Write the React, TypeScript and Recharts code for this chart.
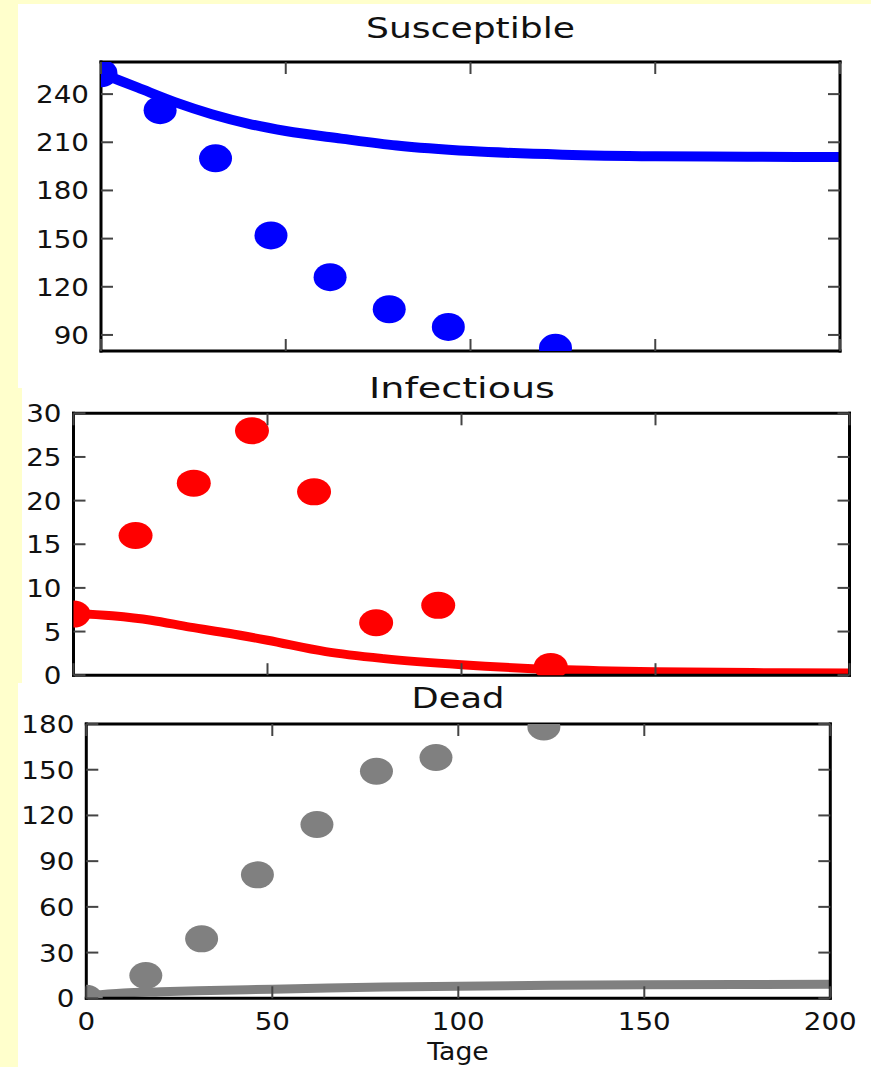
import { ComposedChart, Line, Scatter, XAxis, YAxis } from 'recharts';

// observed counts (days since start)
const obsDays = [0, 16, 31, 46, 62, 78, 94, 123];
const susceptibleObs = [253, 230, 200, 152, 126, 106, 95, 82];
const infectiousObs = [7, 16, 22, 28, 21, 6, 8, 1];
const deadObs = [0, 15, 39, 81, 114, 149, 158, 178];

// fitted model curves
const fitDays = [0, 10, 20, 30, 40, 50, 65, 80, 100, 125, 150, 175, 200];
const susceptibleFit = [253, 244, 235, 227.5, 221.5, 217, 212.3, 208, 204.5, 202.3, 201.3, 201, 200.8];
const infectiousFit = [7.1, 6.8, 6.3, 5.5, 4.8, 4.0, 2.7, 1.9, 1.2, 0.65, 0.4, 0.3, 0.25];
const deadFit = [1.5, 3.5, 4.3, 5, 5.5, 6, 6.8, 7.4, 7.9, 8.5, 8.9, 9.1, 9.2];

const dayTicks = [0, 50, 100, 150, 200];
const susceptibleTicks = [90, 120, 150, 180, 210, 240];
const infectiousTicks = [0, 5, 10, 15, 20, 25, 30];
const deadTicks = [0, 30, 60, 90, 120, 150, 180];

const PAGE_W = 871;
const FONT = '"DejaVu Sans", sans-serif';
const STRETCH = 1.11;
const TICK_LEN = 12;
const TICK_COLOR = '#444';

const toPoints = (xs: number[], ys: number[]) => xs.map((t, i) => ({ t, v: ys[i] }));

// matplotlib-style ticks pointing into the plot, drawn by hand next to the labels
function LeftTick({ x, y, payload }: any) {
  return (
    <g>
      <line x1={x + 12} x2={x + 12 + TICK_LEN} y1={y} y2={y} stroke={TICK_COLOR} strokeWidth={2} />
      <text
        transform={`translate(${x},${y}) scale(${STRETCH},1)`}
        textAnchor="end"
        dy="0.36em"
        fontSize={25}
        fill="#111"
        fontFamily={FONT}
      >
        {payload.value}
      </text>
    </g>
  );
}

function RightTick({ x, y }: any) {
  return <line x1={x - TICK_LEN} x2={x} y1={y} y2={y} stroke={TICK_COLOR} strokeWidth={2} />;
}

// bottom tick also draws the matching tick on the top spine
function BottomTick({ x, y, payload, gap, span, labels }: any) {
  const base = y - gap;
  const top = base - span;
  return (
    <g>
      <line x1={x} x2={x} y1={base - TICK_LEN} y2={base} stroke={TICK_COLOR} strokeWidth={2} />
      <line x1={x} x2={x} y1={top} y2={top + TICK_LEN} stroke={TICK_COLOR} strokeWidth={2} />
      {labels && (
        <text
          transform={`translate(${x},${y}) scale(${STRETCH},1)`}
          textAnchor="middle"
          dy="0.73em"
          fontSize={25}
          fill="#111"
          fontFamily={FONT}
        >
          {payload.value}
        </text>
      )}
    </g>
  );
}

interface PanelProps {
  title: string;
  titleTop: number;
  titleStretch: number;
  top: number;
  height: number;
  plot: { left: number; right: number; top: number; bottom: number };
  yDomain: [number, number];
  yTicks: number[];
  color: string;
  fit: number[];
  obs: number[];
  lineWidth: number;
  rx: number;
  ry: number;
  xLabels?: boolean;
}

const frame = { stroke: '#000', strokeWidth: 3, strokeLinecap: 'square' as const };

function Panel(p: PanelProps) {
  const yW = 60;
  const bottomH = p.xLabels ? 40 : 1;
  const bottomGap = p.xLabels ? 13 : 0;
  const margin = {
    top: p.plot.top - p.top - 1,
    left: p.plot.left - yW,
    right: PAGE_W - p.plot.right - 1,
    bottom: p.top + p.height - p.plot.bottom - bottomH,
  };
  const dot = (props: any) => (
    <ellipse cx={props.cx} cy={props.cy} rx={p.rx} ry={p.ry} fill={p.color} />
  );

  return (
    <>
      <div style={{ position: 'absolute', left: 0, top: p.top }}>
        <ComposedChart width={PAGE_W} height={p.height} margin={margin}>
          <Line
            data={toPoints(fitDays, p.fit)}
            dataKey="v"
            type="monotone"
            stroke={p.color}
            strokeWidth={p.lineWidth}
            dot={false}
            activeDot={false}
            isAnimationActive={false}
          />
          <Scatter
            data={toPoints(obsDays, p.obs)}
            fill={p.color}
            shape={dot}
            isAnimationActive={false}
          />
          <XAxis
            dataKey="t"
            type="number"
            domain={[0, 200]}
            ticks={dayTicks}
            interval={0}
            allowDataOverflow
            height={bottomH}
            stroke="#000"
            axisLine={frame}
            tickLine={false}
            tickSize={0}
            tickMargin={bottomGap}
            tick={
              <BottomTick
                gap={bottomGap}
                span={p.plot.bottom - p.plot.top}
                labels={!!p.xLabels}
              />
            }
          />
          <XAxis
            xAxisId="top"
            orientation="top"
            type="number"
            domain={[0, 200]}
            ticks={dayTicks}
            allowDataOverflow
            height={1}
            stroke="#000"
            axisLine={frame}
            tickLine={false}
            tick={false}
          />
          <YAxis
            dataKey="v"
            type="number"
            domain={p.yDomain}
            ticks={p.yTicks}
            interval={0}
            allowDataOverflow
            width={yW}
            stroke="#000"
            axisLine={frame}
            tickLine={false}
            tickSize={0}
            tickMargin={12}
            tick={<LeftTick />}
          />
          <YAxis
            yAxisId="right"
            orientation="right"
            type="number"
            domain={p.yDomain}
            ticks={p.yTicks}
            interval={0}
            allowDataOverflow
            width={1}
            stroke="#000"
            axisLine={frame}
            tickLine={false}
            tickSize={0}
            tickMargin={0}
            tick={<RightTick />}
          />
        </ComposedChart>
      </div>
      <div
        style={{
          position: 'absolute',
          left: p.plot.left,
          width: p.plot.right - p.plot.left,
          top: p.titleTop,
          textAlign: 'center',
          fontSize: 28,
          lineHeight: '28px',
          color: '#111',
          transform: `scaleX(${p.titleStretch})`,
        }}
      >
        {p.title}
      </div>
    </>
  );
}

export default function App() {
  return (
    <div
      style={{
        position: 'absolute',
        left: 0,
        top: 0,
        width: PAGE_W,
        height: 1067,
        background: '#FFFFCC',
        fontFamily: FONT,
        overflow: 'hidden',
      }}
    >
      <div style={{ position: 'absolute', left: 18, top: 4, width: 853, height: 384, background: '#fff' }} />
      <div style={{ position: 'absolute', left: 22, top: 388, width: 849, height: 295, background: '#fff' }} />
      <div style={{ position: 'absolute', left: 18, top: 683, width: 853, height: 384, background: '#fff' }} />

      <Panel
        title="Susceptible"
        titleTop={15}
        titleStretch={1.29}
        top={0}
        height={388}
        plot={{ left: 101, right: 840, top: 62, bottom: 351 }}
        yDomain={[80, 260]}
        yTicks={susceptibleTicks}
        color="#0000FF"
        fit={susceptibleFit}
        obs={susceptibleObs}
        lineWidth={10}
        rx={16.5}
        ry={14}
      />
      <Panel
        title="Infectious"
        titleTop={375}
        titleStretch={1.36}
        top={388}
        height={302}
        plot={{ left: 73.5, right: 849.5, top: 413.3, bottom: 675.2 }}
        yDomain={[0, 30]}
        yTicks={infectiousTicks}
        color="#FF0000"
        fit={infectiousFit}
        obs={infectiousObs}
        lineWidth={9}
        rx={17}
        ry={13.5}
      />
      <Panel
        title="Dead"
        titleTop={685}
        titleStretch={1.26}
        top={683}
        height={384}
        plot={{ left: 86.3, right: 830.3, top: 724, bottom: 998.3 }}
        yDomain={[0, 180]}
        yTicks={deadTicks}
        color="#808080"
        fit={deadFit}
        obs={deadObs}
        lineWidth={9}
        rx={16.5}
        ry={13.5}
        xLabels
      />

      <div
        style={{
          position: 'absolute',
          left: 86.3,
          width: 744,
          top: 1040,
          textAlign: 'center',
          fontSize: 24,
          lineHeight: '24px',
          color: '#111',
          transform: `scaleX(${STRETCH})`,
        }}
      >
        Tage
      </div>
    </div>
  );
}
